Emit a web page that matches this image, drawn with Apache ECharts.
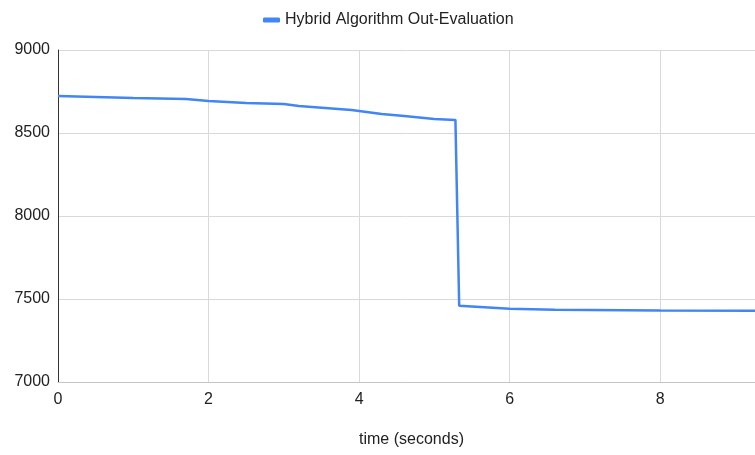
<!DOCTYPE html>
<html>
<head>
<meta charset="utf-8">
<script src="https://cdn.jsdelivr.net/npm/echarts@6/dist/echarts.min.js"></script>
<style>
  html, body { margin: 0; padding: 0; background: #fff; }
  #chart { width: 755px; height: 455px; }
</style>
</head>
<body>
<div id="chart"></div>
<script>
const seriesName = 'Hybrid Algorithm Out-Evaluation';
const timeValues = [0, 1, 1.7, 2, 2.5, 3, 3.2, 3.9, 4.3, 4.6, 5, 5.28, 5.33, 6, 6.6, 8, 9.26];
const evalValues = [8723, 8711, 8705, 8693, 8681, 8675, 8663, 8639, 8615, 8603, 8585, 8579, 7459, 7441, 7435, 7430, 7429];

const points = timeValues.map((t, i) => [t, evalValues[i]]);

const chart = echarts.init(document.getElementById('chart'));
chart.setOption({
  animation: false,
  textStyle: { fontFamily: 'Liberation Sans, Arial, sans-serif' },
  legend: {
    top: 7,
    left: 258,
    itemWidth: 17,
    itemHeight: 5,
    itemGap: 10,
    icon: 'roundRect',
    textStyle: { fontSize: 16, color: '#222' },
    data: [seriesName],
  },
  grid: { left: 58, right: 0, top: 50, bottom: 73 },
  xAxis: {
    type: 'value',
    min: 0,
    max: 9.26,
    interval: 2,
    name: 'time (seconds)',
    nameLocation: 'middle',
    nameGap: 50,
    nameTextStyle: { fontSize: 16, color: '#222', padding: [0, 0, 0, 10] },
    axisLine: { show: true, lineStyle: { color: '#c4c4c4', width: 1 } },
    axisTick: { show: false },
    axisLabel: { fontSize: 16, color: '#222', margin: 10, showMaxLabel: false },
    splitLine: { show: true, lineStyle: { color: '#d9d9d9', width: 1 } },
  },
  yAxis: {
    type: 'value',
    min: 7000,
    max: 9000,
    interval: 500,
    axisLine: { show: true, lineStyle: { color: '#333', width: 1 } },
    axisTick: { show: false },
    axisLabel: { fontSize: 16, color: '#222', margin: 8, formatter: v => String(v) },
    splitLine: { show: true, lineStyle: { color: '#d9d9d9', width: 1 } },
  },
  series: [
    {
      name: seriesName,
      type: 'line',
      data: points,
      showSymbol: false,
      symbol: 'none',
      lineStyle: { color: '#4285f4', width: 2.5 },
      itemStyle: { color: '#4285f4' },
    },
  ],
});
</script>
</body>
</html>
